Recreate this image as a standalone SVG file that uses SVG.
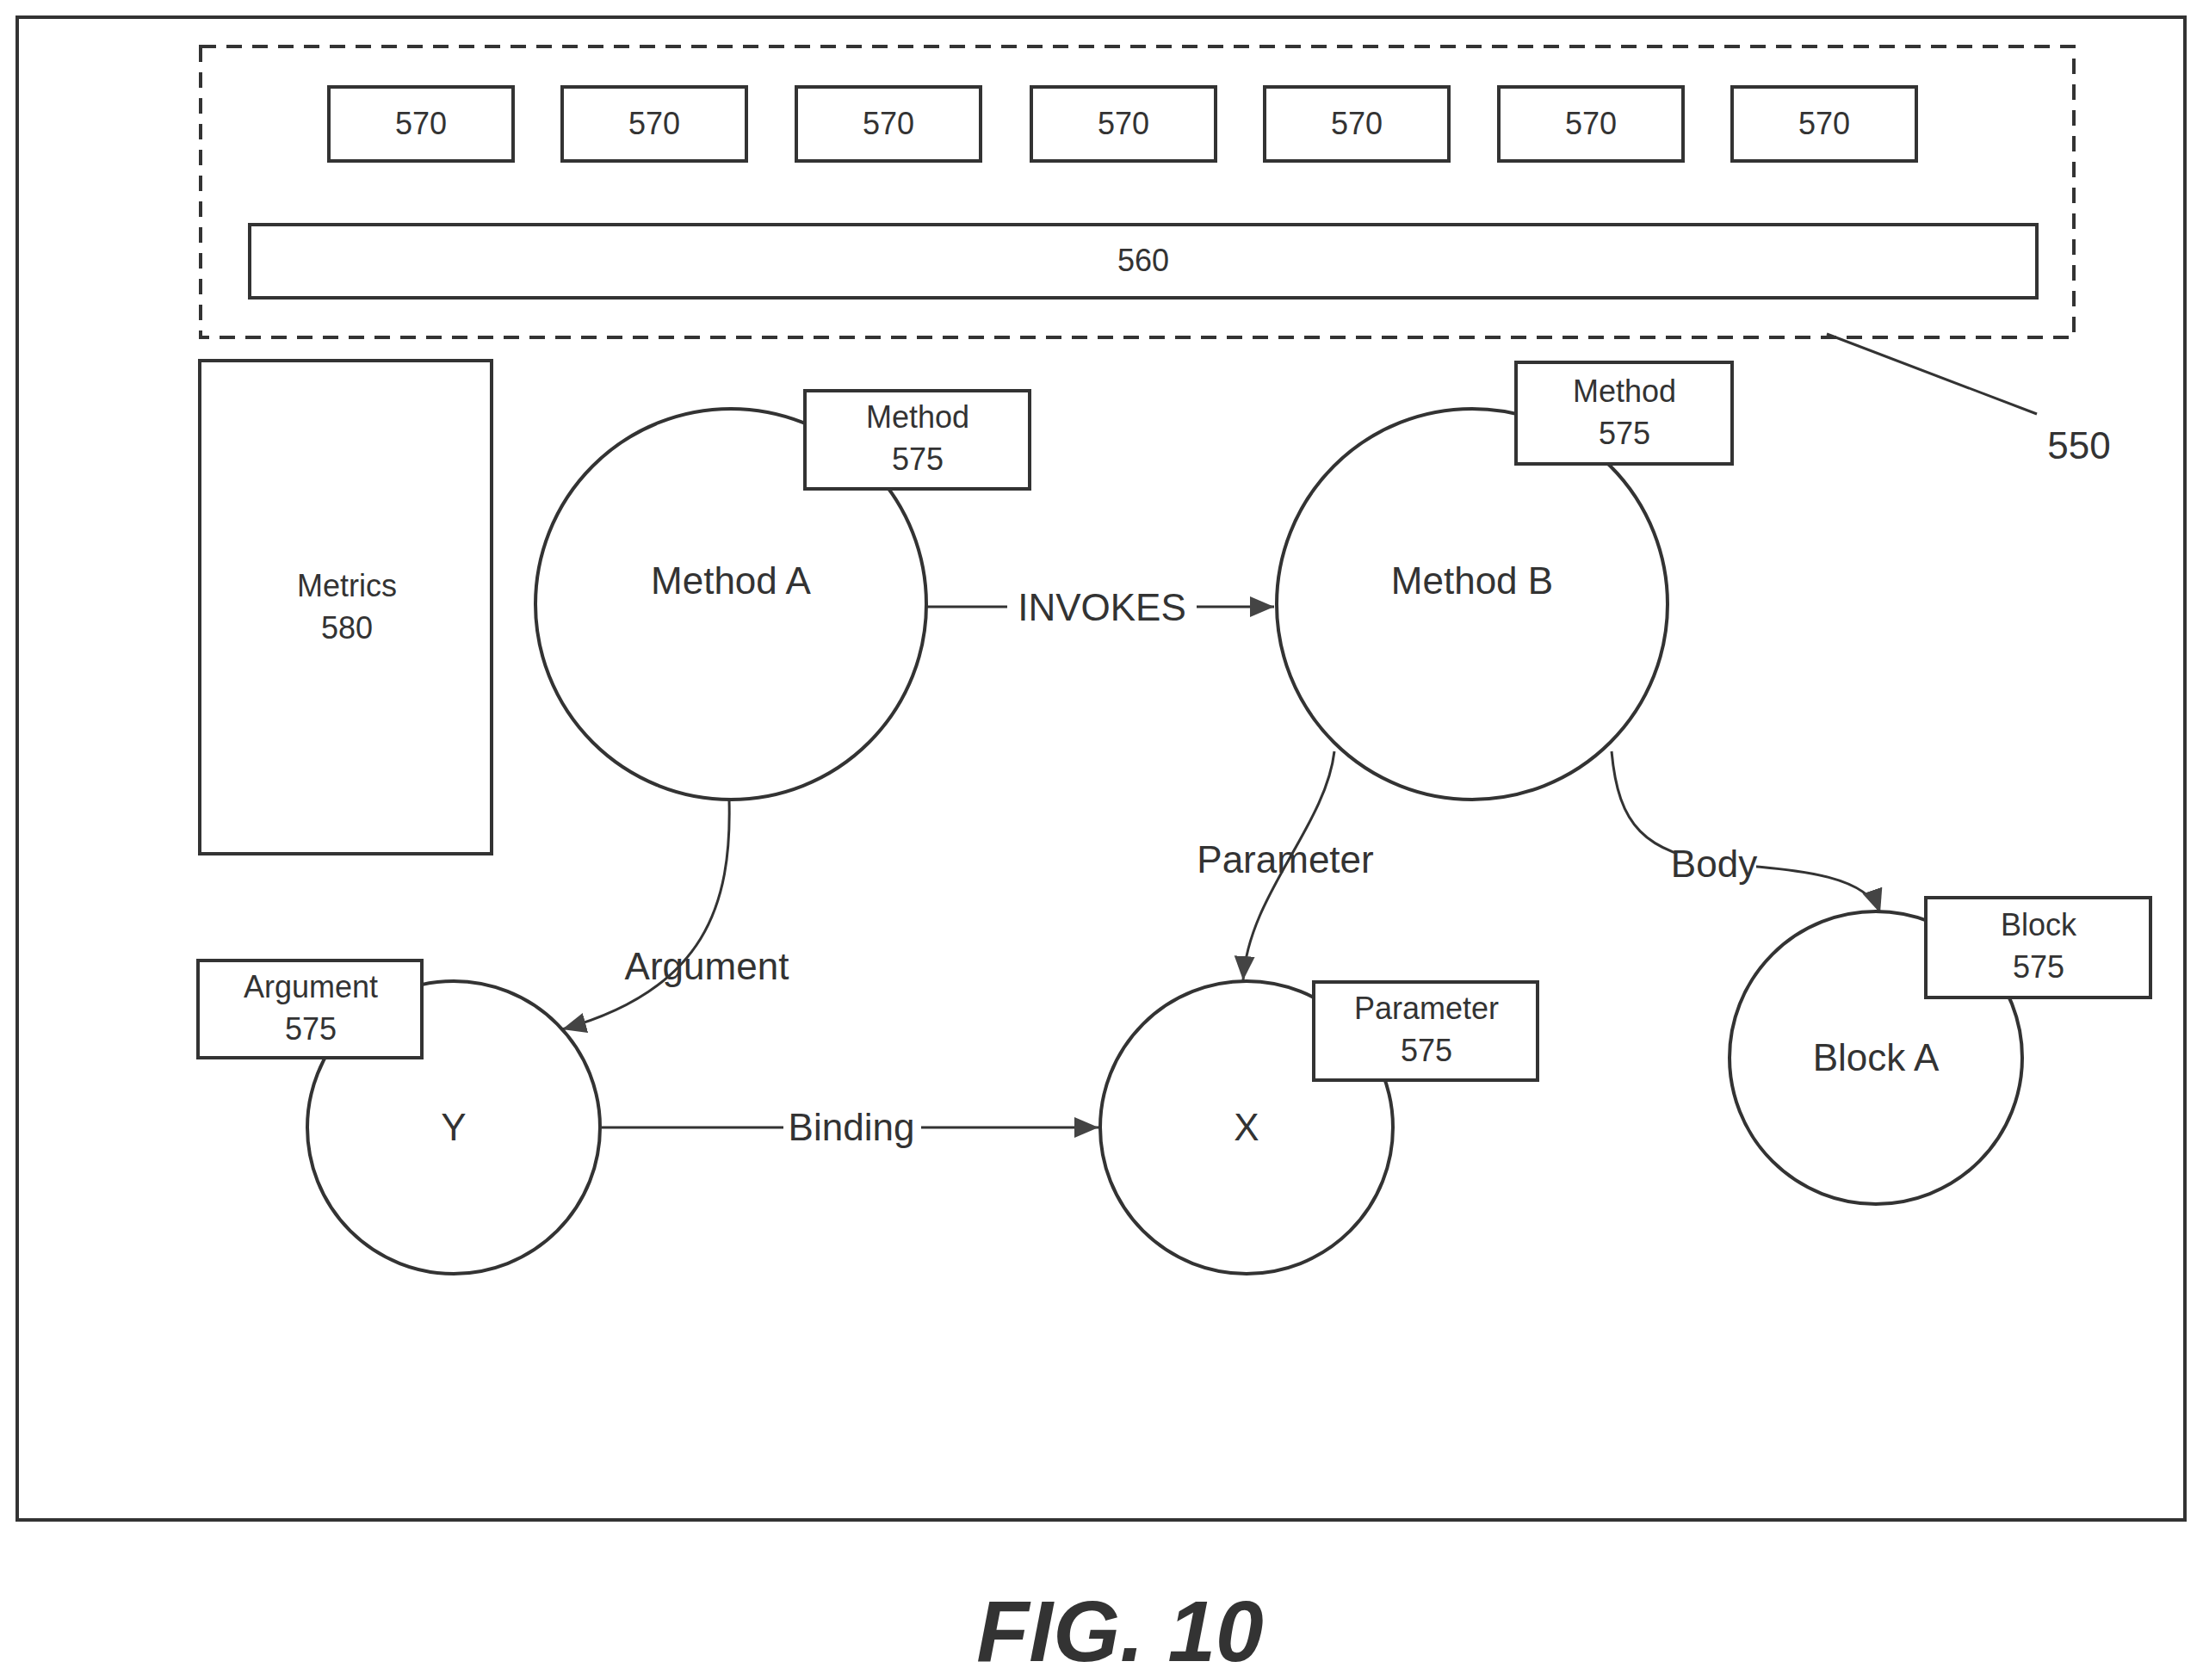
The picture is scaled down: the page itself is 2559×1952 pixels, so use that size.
<svg xmlns="http://www.w3.org/2000/svg" width="2559" height="1952" viewBox="0 0 2559 1952">
<style>
.b{fill:#fff;stroke:#333;stroke-width:4}
.c{fill:none;stroke:#333;stroke-width:3}
.t{font-family:"Liberation Sans",Arial,sans-serif;fill:#333;text-anchor:middle}
.s{font-size:36px}
.m{font-size:44px}
</style>
<defs><marker id="a" markerWidth="10" markerHeight="10" refX="9" refY="5" orient="auto" markerUnits="userSpaceOnUse" viewBox="0 0 10 10"><path d="M0,0L10,5L0,10z" fill="#333"/></marker>
<marker id="ah" markerWidth="30" markerHeight="30" refX="28" refY="12" orient="auto" markerUnits="userSpaceOnUse"><path d="M0,0L28,12L0,24z" fill="#444"/></marker></defs>
<rect x="0" y="0" width="2559" height="1952" fill="#fff"/>
<rect x="20" y="20" width="2518" height="1746" class="b"/>
<g id="n550"><rect x="233" y="54" width="2176" height="338" fill="none" stroke="#333" stroke-width="4" stroke-dasharray="18,12"/>
<line x1="2122" y1="388" x2="2366" y2="481" class="c"/><text x="2415" y="533" class="t m">550</text></g>
<g id="n570">
<rect x="382" y="101" width="214" height="86" class="b"/><text x="489" y="156" class="t s">570</text>
<rect x="653" y="101" width="214" height="86" class="b"/><text x="760" y="156" class="t s">570</text>
<rect x="925" y="101" width="214" height="86" class="b"/><text x="1032" y="156" class="t s">570</text>
<rect x="1198" y="101" width="214" height="86" class="b"/><text x="1305" y="156" class="t s">570</text>
<rect x="1469" y="101" width="214" height="86" class="b"/><text x="1576" y="156" class="t s">570</text>
<rect x="1741" y="101" width="214" height="86" class="b"/><text x="1848" y="156" class="t s">570</text>
<rect x="2012" y="101" width="214" height="86" class="b"/><text x="2119" y="156" class="t s">570</text></g>
<g id="n560"><rect x="290" y="261" width="2076" height="85" class="b"/><text x="1328" y="315" class="t s">560</text></g>
<g id="metrics"><rect x="232" y="419" width="339" height="573" class="b"/><text x="403" y="693" class="t s">Metrics</text><text x="403" y="742" class="t s">580</text></g>
<g id="connectors">
<line x1="1076" y1="705" x2="1480" y2="705" class="c" marker-end="url(#ah)"/>
<line x1="699" y1="1310" x2="1276" y2="1310" class="c" marker-end="url(#ah)"/>
<path d="M847,930 C850,1050 820,1150 653,1196" class="c" marker-end="url(#ah)"/>
<path d="M1550,873 C1540,960 1450,1040 1444,1139" class="c" marker-end="url(#ah)"/>
<path d="M1872,873 C1880,960 1910,990 2000,1004 C2100,1010 2170,1020 2184,1061" class="c" marker-end="url(#ah)"/>
<rect x="1170" y="680" width="220" height="50" fill="#fff"/><text x="1280" y="721" class="t m">INVOKES</text>
<rect x="910" y="1285" width="160" height="50" fill="#fff"/><text x="989" y="1325" class="t m">Binding</text>
<text x="821" y="1138" class="t m">Argument</text>
<text x="1493" y="1014" class="t m">Parameter</text>
<rect x="1945" y="980" width="95" height="46" fill="#fff"/><text x="1991" y="1019" class="t m">Body</text>
</g>
<g id="methodA"><circle cx="849" cy="702" r="227" class="b"/><text x="849" y="690" class="t m">Method A</text>
<rect x="935" y="454" width="261" height="114" class="b"/><text x="1066" y="497" class="t s">Method</text><text x="1066" y="546" class="t s">575</text></g>
<g id="methodB"><circle cx="1710" cy="702" r="227" class="b"/><text x="1710" y="690" class="t m">Method B</text>
<rect x="1761" y="421" width="251" height="118" class="b"/><text x="1887" y="467" class="t s">Method</text><text x="1887" y="516" class="t s">575</text></g>
<g id="Y"><circle cx="527" cy="1310" r="170" class="b"/><text x="527" y="1325" class="t m">Y</text>
<rect x="230" y="1116" width="260" height="113" class="b"/><text x="361" y="1159" class="t s">Argument</text><text x="361" y="1208" class="t s">575</text></g>
<g id="X"><circle cx="1448" cy="1310" r="170" class="b"/><text x="1448" y="1325" class="t m">X</text>
<rect x="1526" y="1141" width="260" height="114" class="b"/><text x="1657" y="1184" class="t s">Parameter</text><text x="1657" y="1233" class="t s">575</text></g>
<g id="blockA"><circle cx="2179" cy="1229" r="170" class="b"/><text x="2179" y="1244" class="t m">Block A</text>
<rect x="2237" y="1043" width="261" height="116" class="b"/><text x="2368" y="1087" class="t s">Block</text><text x="2368" y="1136" class="t s">575</text></g>
<text x="1301" y="1930" class="t" style="font-size:100px;font-weight:bold;font-style:italic">FIG. 10</text>
</svg>
